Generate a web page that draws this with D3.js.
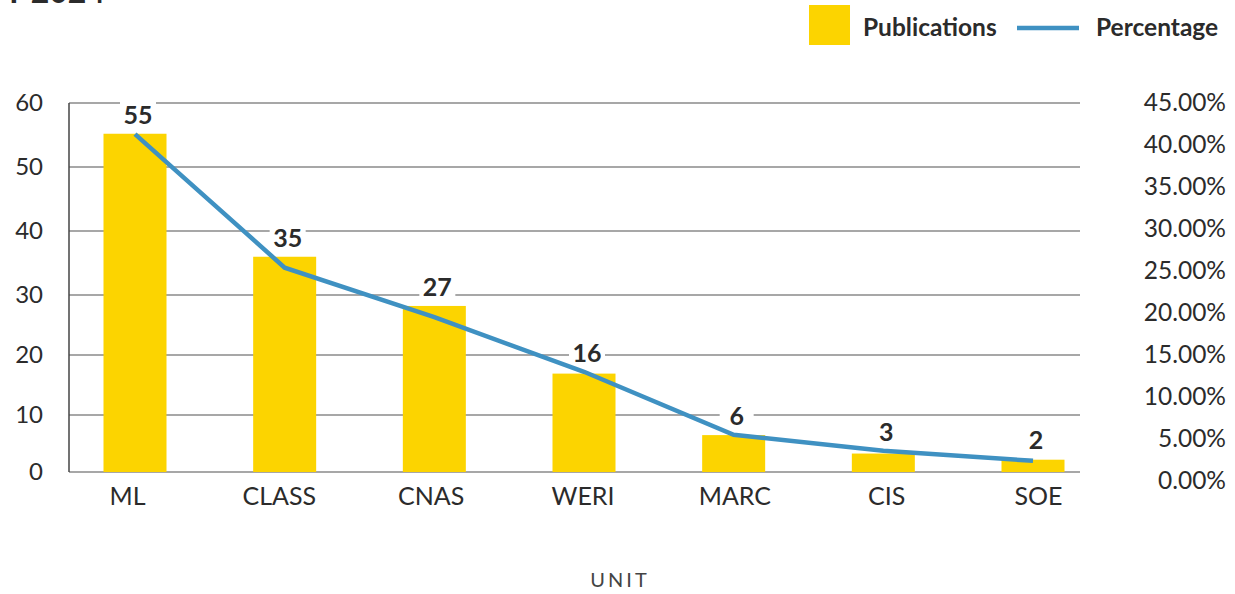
<!DOCTYPE html>
<html>
<head>
<meta charset="utf-8">
<script src="https://cdn.jsdelivr.net/npm/d3@7"></script>
<style>
  body { margin: 0; background: #fff; }
  svg { display: block; font-family: Lato, 'Noto Sans', sans-serif; }
</style>
</head>
<body>
<svg width="1235" height="594"></svg>
<script>
// data
var units = ['ML', 'CLASS', 'CNAS', 'WERI', 'MARC', 'CIS', 'SOE'];
var publications = [55, 35, 27, 16, 6, 3, 2];
var percentage = [0.413, 0.254, 0.195, 0.130, 0.055, 0.036, 0.024];
var leftTicks = [0, 10, 20, 30, 40, 50, 60];
var rightTicks = [0, 0.05, 0.10, 0.15, 0.20, 0.25, 0.30, 0.35, 0.40, 0.45];

var yellow = '#fcd400',
    blue = '#3f91c2',
    textCol = '#2b2b2b',
    gridCol = '#8a8a8a';

var svg = d3.select('svg');

// scales
var x = d3.scalePoint().domain(units).range([135, 1033]);
var xLabel = d3.scalePoint().domain(units).range([127, 1038]);
var yLeft = d3.scaleLinear().domain([0, 60]).range([472, 103]);
// the gridlines in the picture are not evenly spaced
var yGrid = d3.scaleLinear().domain(leftTicks).range([472, 415, 355, 295, 231, 167, 103]);
var yRight = d3.scaleLinear().domain([0, 0.45]).range([481, 103]);
var barWidth = 63;

// title, cut off at the top of the picture
svg.append('text')
    .attr('x', 105)
    .attr('y', 3)
    .attr('text-anchor', 'end')
    .style('font-size', '32px')
    .style('font-weight', 'bold')
    .attr('fill', textCol)
    .text('FY 2024');

// gridlines
svg.append('g')
    .selectAll('line')
    .data(leftTicks)
    .enter()
    .append('line')
    .attr('x1', 69)
    .attr('x2', 1080)
    .attr('y1', function(d){ return yGrid(d) })
    .attr('y2', function(d){ return yGrid(d) })
    .attr('stroke', gridCol)
    .attr('stroke-width', 1.5);

// left axis
var leftAxis = svg.append('g')
    .attr('transform', 'translate(43,0)')
    .call(d3.axisLeft(yGrid).tickValues(leftTicks).tickSize(0).tickPadding(0));
leftAxis.select('.domain').remove();
leftAxis.selectAll('text')
    .style('font-size', '24px')
    .style('font-family', 'Lato, sans-serif')
    .attr('fill', textCol);

svg.append('line')
    .attr('x1', 69).attr('x2', 69)
    .attr('y1', yGrid(60)).attr('y2', yGrid(0))
    .attr('stroke', '#444')
    .attr('stroke-width', 1.5);

// right axis
var rightAxis = svg.append('g')
    .attr('transform', 'translate(1226,0)')
    .call(d3.axisLeft(yRight).tickValues(rightTicks).tickFormat(d3.format('.2%')).tickSize(0).tickPadding(0));
rightAxis.select('.domain').remove();
rightAxis.selectAll('text')
    .style('font-size', '24.5px')
    .style('font-family', 'Lato, sans-serif')
    .attr('fill', textCol);

// bars
svg.append('g')
    .selectAll('rect')
    .data(publications)
    .enter()
    .append('rect')
    .attr('x', function(d, i){ return x(units[i]) - barWidth / 2 })
    .attr('y', function(d){ return yLeft(d) })
    .attr('width', barWidth)
    .attr('height', function(d){ return yLeft(0) - yLeft(d) })
    .attr('fill', yellow);

// data labels with white boxes
var labels = svg.append('g')
    .selectAll('g')
    .data(publications)
    .enter()
    .append('g')
    .attr('transform', function(d, i){
        var top = Math.min(yLeft(d), yRight(percentage[i]));
        return 'translate(' + (x(units[i]) + 3) + ',' + (top - 19) + ')';
    });

labels.append('rect')
    .attr('x', function(d){ return -Math.max(String(d).length * 14 + 8, 34) / 2 })
    .attr('y', -15)
    .attr('width', function(d){ return Math.max(String(d).length * 14 + 8, 34) })
    .attr('height', 30)
    .attr('fill', '#fff');

labels.append('text')
    .attr('text-anchor', 'middle')
    .attr('dy', '0.35em')
    .style('font-size', '25px')
    .style('font-weight', 'bold')
    .attr('fill', textCol)
    .text(function(d){ return d });

// percentage line
var line = d3.line()
    .x(function(d, i){ return x(units[i]) })
    .y(function(d){ return yRight(d) });

svg.append('path')
    .datum(percentage)
    .attr('d', line)
    .attr('fill', 'none')
    .attr('stroke', blue)
    .attr('stroke-width', 4.5);

// x axis labels
var bottomAxis = svg.append('g')
    .attr('transform', 'translate(0,487)')
    .call(d3.axisBottom(xLabel).tickSize(0).tickPadding(0));
bottomAxis.select('.domain').remove();
bottomAxis.selectAll('text')
    .style('font-size', '25px')
    .style('font-family', 'Lato, sans-serif')
    .attr('fill', textCol);

svg.append('text')
    .attr('x', 620)
    .attr('y', 587)
    .attr('text-anchor', 'middle')
    .style('font-size', '20px')
    .style('letter-spacing', '3px')
    .attr('fill', '#444')
    .text('UNIT');

// legend
svg.append('rect')
    .attr('x', 809).attr('y', 5)
    .attr('width', 41).attr('height', 40)
    .attr('fill', yellow);

svg.append('text')
    .attr('x', 863).attr('y', 27)
    .attr('dy', '0.35em')
    .style('font-size', '24.5px')
    .style('font-weight', 'bold')
    .attr('fill', textCol)
    .text('Publications');

svg.append('line')
    .attr('x1', 1017).attr('x2', 1079)
    .attr('y1', 28).attr('y2', 28)
    .attr('stroke', blue)
    .attr('stroke-width', 4.5);

svg.append('text')
    .attr('x', 1096).attr('y', 27)
    .attr('dy', '0.35em')
    .style('font-size', '24.5px')
    .style('font-weight', 'bold')
    .attr('fill', textCol)
    .text('Percentage');
</script>
</body>
</html>
